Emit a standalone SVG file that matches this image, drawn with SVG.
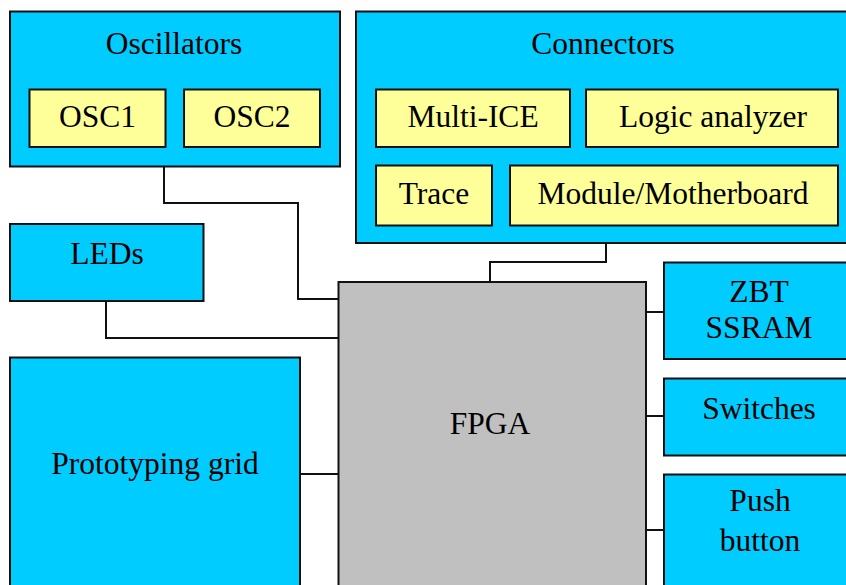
<svg xmlns="http://www.w3.org/2000/svg" width="846" height="585" viewBox="0 0 846 585">
  <style>
    .blk { fill: #00ccff; stroke: #111; stroke-width: 2; }
    .sub { fill: #ffff99; stroke: #111; stroke-width: 2; }
    .chip { fill: #c0c0c0; stroke: #111; stroke-width: 2; }
    .wire { fill: none; stroke: #111; stroke-width: 2; }
    text { font-family: "Liberation Serif", "Times New Roman", serif; font-size: 31.5px; fill: #000; text-anchor: middle; }
  </style>

  <g id="connectors">
    <polyline class="wire" points="164,167 164,203 298,203 298,299 338,299"/>
    <polyline class="wire" points="606,243 606,262 490,262 490,282"/>
    <polyline class="wire" points="106,301 106,338 338,338"/>
    <line class="wire" x1="300" y1="474" x2="338" y2="474"/>
    <line class="wire" x1="646" y1="312" x2="664" y2="312"/>
    <line class="wire" x1="646" y1="416" x2="664" y2="416"/>
    <line class="wire" x1="646" y1="530" x2="664" y2="530"/>
  </g>

  <g id="oscillators">
    <rect class="blk" x="10" y="11.5" width="330" height="155"/>
    <text x="174" y="53.5">Oscillators</text>
    <g id="osc1">
      <rect class="sub" x="29.5" y="89.5" width="136" height="57.5"/>
      <text x="97.5" y="127">OSC1</text>
    </g>
    <g id="osc2">
      <rect class="sub" x="184" y="89.5" width="136" height="57.5"/>
      <text x="252" y="127">OSC2</text>
    </g>
  </g>

  <g id="connectors-block">
    <rect class="blk" x="356" y="11.5" width="500" height="231.5"/>
    <text x="603" y="53.5">Connectors</text>
    <g id="multi-ice">
      <rect class="sub" x="376" y="89.5" width="194" height="57.5"/>
      <text x="473" y="127">Multi-ICE</text>
    </g>
    <g id="logic-analyzer">
      <rect class="sub" x="586" y="89.5" width="252" height="57.5"/>
      <text x="713" y="127">Logic analyzer</text>
    </g>
    <g id="trace">
      <rect class="sub" x="376" y="165.5" width="116" height="60"/>
      <text x="434" y="204">Trace</text>
    </g>
    <g id="module-motherboard">
      <rect class="sub" x="510" y="165.5" width="328" height="60"/>
      <text x="673" y="204">Module/Motherboard</text>
    </g>
  </g>

  <g id="leds">
    <rect class="blk" x="10" y="224" width="193.5" height="77"/>
    <text x="107" y="263.5">LEDs</text>
  </g>

  <g id="prototyping-grid">
    <rect class="blk" x="10" y="357.5" width="290" height="240"/>
    <text x="155" y="473.5">Prototyping grid</text>
  </g>

  <g id="fpga">
    <rect class="chip" x="338.5" y="282" width="307.5" height="320"/>
    <text x="490" y="433.5">FPGA</text>
  </g>

  <g id="zbt-ssram">
    <rect class="blk" x="664" y="262.5" width="200" height="96.5"/>
    <text x="759" y="301.5">ZBT</text>
    <text x="759" y="337.5">SSRAM</text>
  </g>

  <g id="switches">
    <rect class="blk" x="664" y="378.5" width="200" height="77"/>
    <text x="759" y="418.5">Switches</text>
  </g>

  <g id="push-button">
    <rect class="blk" x="664" y="474.5" width="200" height="130"/>
    <text x="760" y="510.5">Push</text>
    <text x="760" y="550.5">button</text>
  </g>
</svg>
